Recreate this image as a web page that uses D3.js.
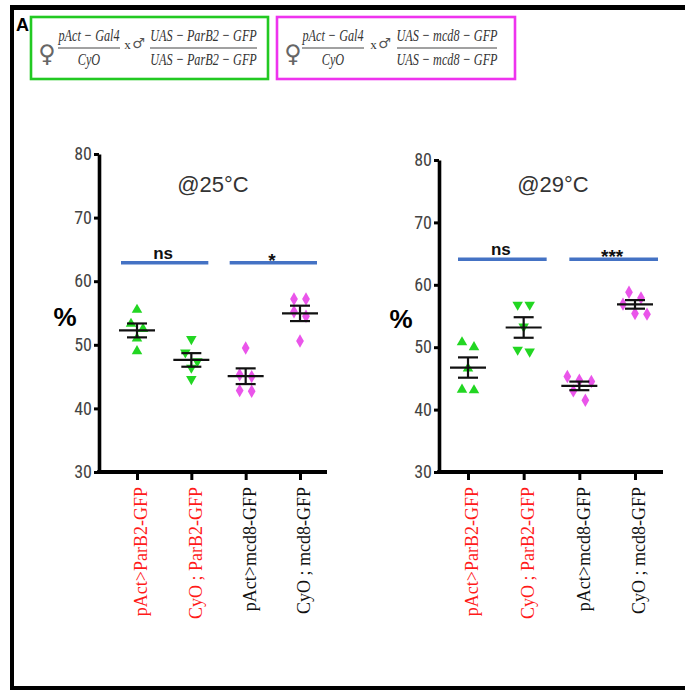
<!DOCTYPE html>
<html>
<head>
<meta charset="utf-8">
<script src="https://cdn.jsdelivr.net/npm/d3@7/dist/d3.min.js"></script>
<style>
  body { margin: 0; background: #fff; }
  svg { display: block; }
  .ytick text { font-family: "Liberation Sans Narrow", "Roboto Condensed", "Liberation Sans", sans-serif; font-size: 18px; fill: #444; }
  .axis path, .axis line { stroke: #000; }
  .title { font-family: "Liberation Sans", Arial, sans-serif; font-size: 22px; fill: #333; text-anchor: middle; }
  .pct { font-family: "Liberation Sans", Arial, sans-serif; font-size: 26px; font-weight: bold; text-anchor: middle; }
  .xlab { font-family: "Liberation Serif", "Times New Roman", serif; font-size: 18px; text-anchor: end; }
  .sig { font-family: "Liberation Sans", Arial, sans-serif; font-weight: bold; text-anchor: middle; fill: #111; }
  .frac { font-family: "Liberation Serif", serif; font-style: italic; font-size: 12.2px; fill: #333; text-anchor: middle; }
</style>
</head>
<body>
<div id="chart"></div>
<script>
// genotypes on the x axis, same order in both panels
var categories = ["pAct>ParB2-GFP", "CyO ; ParB2-GFP", "pAct>mcd8-GFP", "CyO ; mcd8-GFP"];
var yTicks = [30, 40, 50, 60, 70, 80];

// % per fly
var values25 = [
  [55.5, 53.3, 52.5, 51.0, 49.0],
  [50.9, 48.8, 47.4, 46.4, 44.6],
  [49.5, 45.3, 45.0, 42.8, 42.7],
  [57.2, 57.2, 55.2, 54.5, 50.6]
];
var values29 = [
  [50.8, 50.0, 46.6, 43.2, 43.1],
  [56.8, 56.8, 53.3, 49.6, 49.3],
  [45.3, 44.7, 44.5, 43.0, 41.5],
  [58.8, 57.9, 56.9, 55.4, 55.3]
];
var titles = ["@25°C", "@29°C"];
var sigLabels25 = ["ns", "*"];
var sigLabels29 = ["ns", "***"];
var sigLevel25 = 62.9, sigLevel29 = 64.1;

// crosses shown in the header boxes
var crossFemale = ["pAct − Gal4", "CyO"];
var crossMale1 = ["UAS − ParB2 − GFP", "UAS − ParB2 − GFP"];
var crossMale2 = ["UAS − mcd8 − GFP", "UAS − mcd8 − GFP"];

var W = 685, H = 690;
var svg = d3.select("#chart").append("svg").attr("width", W).attr("height", H);

// outer frame (left, top, bottom)
svg.append("rect").attr("x", 10).attr("y", 5).attr("width", 4).attr("height", H - 5).attr("fill", "#000");
svg.append("rect").attr("x", 10).attr("y", 5).attr("width", W - 10).attr("height", 5).attr("fill", "#000");
svg.append("rect").attr("x", 10).attr("y", 686).attr("width", W - 10).attr("height", 4).attr("fill", "#000");
svg.append("text").attr("x", 16).attr("y", 31).text("A")
  .style("font-family", "Liberation Sans, Arial, sans-serif").style("font-size", "18px").style("font-weight", "bold");

// header boxes with the crosses
function drawCross(box) {
  var g = svg.append("g");
  g.append("rect").attr("x", box.x).attr("y", 17).attr("width", box.w).attr("height", 62)
    .attr("fill", "none").attr("stroke", box.color).attr("stroke-width", 2.6);
  g.append("text").attr("x", box.sym).attr("y", 62).text("♀")
    .style("font-family", "DejaVu Sans").style("font-size", "24px").attr("text-anchor", "middle").attr("fill", "#666");
  // Cambria-Math-like look: narrow italic serif stretched vertically
  function frac(cx, w, parts) {
    g.append("text").attr("class", "frac").attr("transform", "translate(" + cx + ",41) scale(1,1.45)").text(parts[0]);
    g.append("line").attr("x1", cx - w / 2).attr("x2", cx + w / 2).attr("y1", 48).attr("y2", 48)
      .attr("stroke", "#444").attr("stroke-width", 1);
    g.append("text").attr("class", "frac").attr("transform", "translate(" + cx + ",65) scale(1,1.45)").text(parts[1]);
  }
  frac(box.f1, 62, crossFemale);
  g.append("text").attr("x", box.xx).attr("y", 49).text("x")
    .style("font-family", "Liberation Serif").style("font-size", "13px").attr("text-anchor", "middle").attr("fill", "#333");
  g.append("text").attr("x", box.m).attr("y", 48).text("♂")
    .style("font-family", "DejaVu Sans").style("font-size", "14px").attr("text-anchor", "middle").attr("fill", "#555");
  frac(box.f2, box.w2, box.male);
}
drawCross({ x: 31, w: 237, color: "#22c922", sym: 47, f1: 89, xx: 127.5, m: 138.5, f2: 203.5, w2: 107, male: crossMale1 });
drawCross({ x: 277, w: 238, color: "#ee33ee", sym: 293, f1: 333, xx: 373.5, m: 384.5, f2: 447, w2: 100, male: crossMale2 });

var pointColors = ["#22d622", "#22d622", "#ea55ea", "#ea55ea"];
var labelColors = ["#ff1a1a", "#ff1a1a", "#111", "#111"];
var symbols = [d3.symbolTriangle, d3.symbolTriangle, d3.symbolDiamond, d3.symbolDiamond];

// Prism-like column scatter: points within one row height are spread side by side
function swarm(vals, y, rowH, step) {
  var sorted = vals.slice().sort(function (a, b) { return b - a; });
  var rows = [], cur = null;
  sorted.forEach(function (v) {
    if (!cur || y(v) - y(cur[0]) > rowH) { cur = [v]; rows.push(cur); }
    else cur.push(v);
  });
  var out = [];
  rows.forEach(function (r) {
    r.forEach(function (v, k) { out.push({ v: v, dx: (k - (r.length - 1) / 2) * step }); });
  });
  return out;
}

function drawPanel(p) {
  var g = svg.append("g");
  var y = d3.scaleLinear().domain([30, 80]).range([472, p.top]);
  var x = d3.scalePoint().domain(categories).range([p.first, p.last]);

  // scatter points
  p.values.forEach(function (vals, i) {
    var cx = x(categories[i]);
    var pts = swarm(vals, y, 10, 12);
    g.append("g").selectAll("path").data(pts).enter().append("path")
      .attr("d", d3.symbol().type(symbols[i]).size(i < 2 ? 48 : 52))
      .attr("transform", function (d) {
        return "translate(" + (cx + d.dx) + "," + y(d.v) + ")" + (i == 1 ? " rotate(180)" : "");
      })
      .attr("fill", pointColors[i]);
  });

  // mean ± SEM
  p.values.forEach(function (vals, i) {
    var cx = x(categories[i]);
    var m = d3.mean(vals), sem = d3.deviation(vals) / Math.sqrt(vals.length);
    var eg = g.append("g").attr("stroke", "#111").attr("stroke-width", 2.2);
    eg.append("line").attr("x1", cx - 18).attr("x2", cx + 18).attr("y1", y(m)).attr("y2", y(m));
    eg.append("line").attr("x1", cx).attr("x2", cx).attr("y1", y(m - sem)).attr("y2", y(m + sem));
    [m - sem, m + sem].forEach(function (v) {
      eg.append("line").attr("x1", cx - 10).attr("x2", cx + 10).attr("y1", y(v)).attr("y2", y(v));
    });
  });

  // y axis
  var ya = g.append("g").attr("class", "axis ytick").attr("transform", "translate(" + p.axisX + ",0)")
    .call(d3.axisLeft(y).tickValues(yTicks).tickSize(5).tickSizeOuter(0).tickPadding(2));
  ya.select(".domain").attr("stroke-width", 3.6);
  ya.selectAll(".tick line").attr("stroke-width", 3);

  // x axis: ticks from the scale, base line drawn across the panel
  var xa = g.append("g").attr("class", "axis").attr("transform", "translate(0,472)")
    .call(d3.axisBottom(x).tickSize(8).tickSizeOuter(0).tickFormat(""));
  xa.select(".domain").remove();
  xa.selectAll(".tick line").attr("stroke-width", 3);
  g.append("line").attr("x1", p.axisX - 1.8).attr("x2", p.end).attr("y1", 472).attr("y2", 472)
    .attr("stroke", "#000").attr("stroke-width", 4);

  categories.forEach(function (c, i) {
    g.append("text").attr("class", "xlab")
      .attr("transform", "translate(" + (x(c) + 4) + ",487) rotate(-90)")
      .attr("dy", "0.35em").attr("fill", labelColors[i]).text(c);
  });

  g.append("text").attr("class", "title").attr("x", p.titleX).attr("y", 192).text(p.title);
  g.append("text").attr("class", "pct").attr("x", p.pctX).attr("y", p.pctY).text("%");

  // significance bars
  [[0, 1], [2, 3]].forEach(function (pair, k) {
    var x1 = x(categories[pair[0]]) - p.pad[0], x2 = x(categories[pair[1]]) + p.pad[1];
    var ly = y(p.sigLevel);
    g.append("line").attr("x1", x1).attr("x2", x2).attr("y1", ly).attr("y2", ly)
      .attr("stroke", "#4472c4").attr("stroke-width", 3.4);
    var lab = p.sig[k];
    var t = g.append("text").attr("class", "sig").attr("x", (x1 + x2) / 2 - 1.5).text(lab);
    if (lab.charAt(0) == "*") t.attr("y", ly + 4).style("font-size", "19px");
    else t.attr("y", ly - 4).style("font-size", "17px");
  });
}

drawPanel({ values: values25, title: titles[0], sig: sigLabels25, sigLevel: sigLevel25,
  axisX: 99, top: 154, first: 137, last: 300, end: 327, titleX: 213, pctX: 65, pctY: 326, pad: [16, 17] });
drawPanel({ values: values29, title: titles[1], sig: sigLabels29, sigLevel: sigLevel29,
  axisX: 439, top: 160, first: 468, last: 635, end: 663, titleX: 553, pctX: 401, pctY: 328, pad: [10, 23] });
</script>
</body>
</html>
